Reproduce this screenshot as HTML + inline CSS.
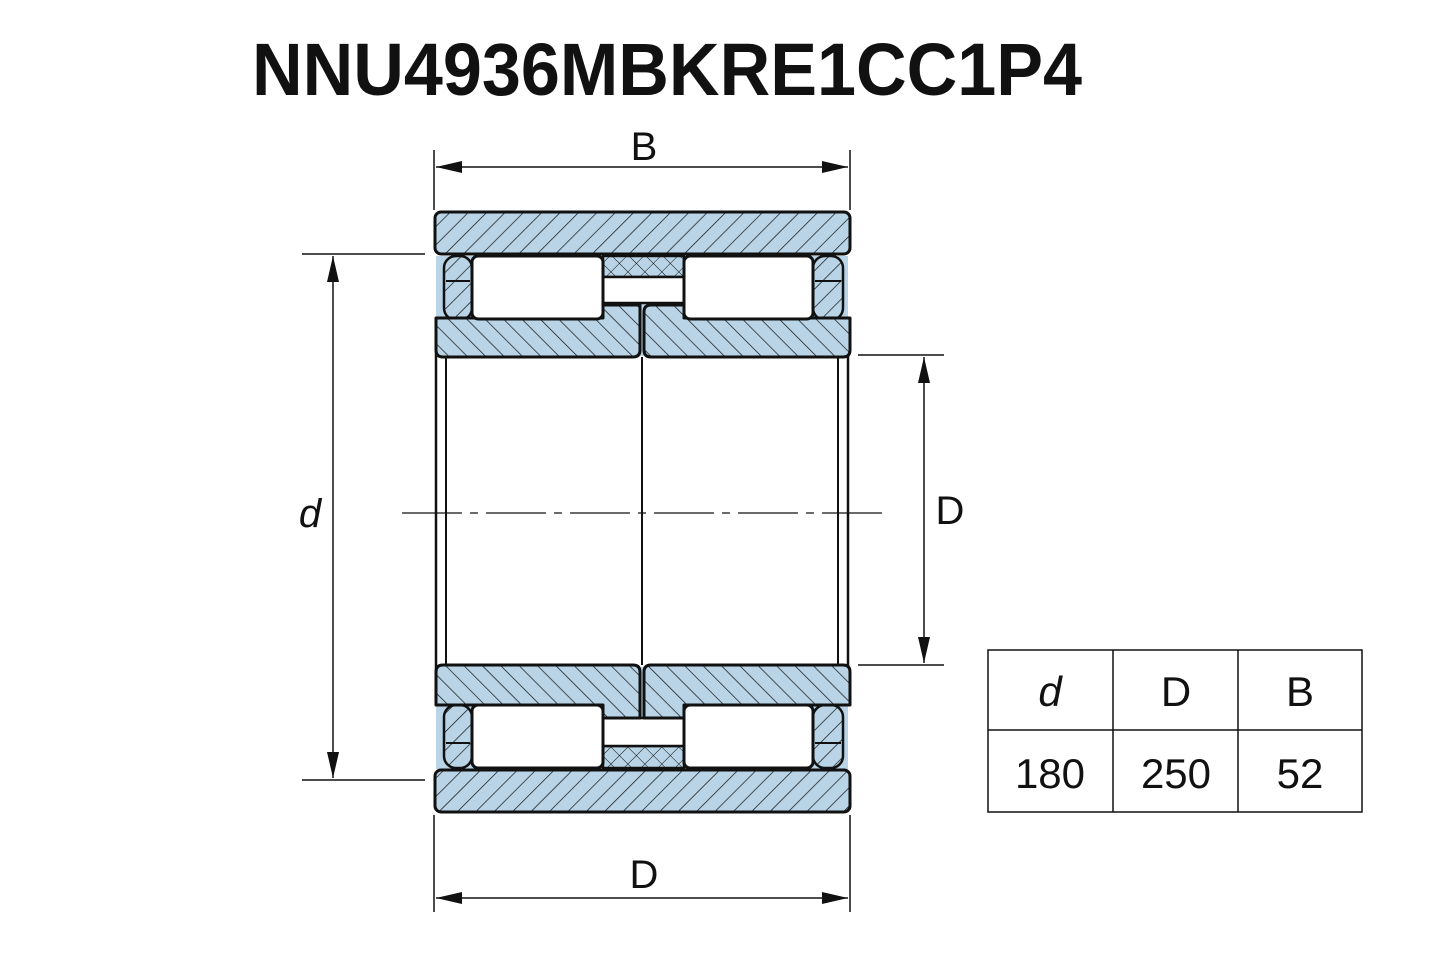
<!DOCTYPE html>
<html><head><style>html,body{margin:0;padding:0;background:#fff;}</style></head>
<body>
<svg width="1445" height="963" viewBox="0 0 1445 963" xmlns="http://www.w3.org/2000/svg" font-family="Liberation Sans, sans-serif">
<defs>
<pattern id="hr" width="13" height="13" patternUnits="userSpaceOnUse" patternTransform="rotate(45)">
<rect width="13" height="13" fill="#b8d4e6"/><line x1="0" y1="0" x2="0" y2="13" stroke="#111" stroke-width="1.4"/></pattern>
<pattern id="hl" width="13" height="13" patternUnits="userSpaceOnUse" patternTransform="rotate(-45)">
<rect width="13" height="13" fill="#b8d4e6"/><line x1="0" y1="0" x2="0" y2="13" stroke="#111" stroke-width="1.4"/></pattern>
<pattern id="hx" width="12" height="12" patternUnits="userSpaceOnUse" patternTransform="rotate(45)">
<rect width="12" height="12" fill="#b8d4e6"/><line x1="0" y1="0" x2="0" y2="12" stroke="#111" stroke-width="1"/><line x1="0" y1="0" x2="12" y2="0" stroke="#111" stroke-width="1"/></pattern>
<marker id="ar" viewBox="0 0 26 12" refX="26" refY="6" markerWidth="26" markerHeight="12" markerUnits="userSpaceOnUse" orient="auto-start-reverse"><path d="M0,0 L26,6 L0,12 z" fill="#111"/></marker>
</defs>

<text x="252" y="95" font-size="74" font-weight="bold" fill="#111" textLength="830" lengthAdjust="spacingAndGlyphs">NNU4936MBKRE1CC1P4</text>

<g stroke="#111" fill="none" stroke-width="1.5">
<line x1="436" y1="340" x2="436" y2="680" stroke-width="2.5"/>
<line x1="848" y1="340" x2="848" y2="680" stroke-width="2.5"/>
<line x1="446" y1="357" x2="446" y2="665" stroke-width="2"/>
<line x1="838" y1="357" x2="838" y2="665" stroke-width="2"/>
<line x1="642" y1="357" x2="642" y2="665" stroke-width="2"/>
</g>

<g stroke="#111" stroke-width="3" stroke-linejoin="round">
<rect x="436" y="256" width="412" height="100" fill="#b8d4e6" stroke="none"/>
<rect x="435" y="212" width="415" height="42" rx="6" fill="url(#hr)"/>
<rect x="444" y="256" width="28" height="64" rx="12" fill="url(#hr)" stroke-width="2.5"/>
<line x1="446" y1="281" x2="470" y2="281" stroke-width="2"/>
<rect x="813" y="256" width="30" height="64" rx="12" fill="url(#hr)" stroke-width="2.5"/>
<line x1="815" y1="281" x2="841" y2="281" stroke-width="2"/>
<rect x="603" y="256" width="81" height="21" fill="url(#hx)" stroke-width="2.5"/>
<rect x="603" y="277" width="81" height="26" fill="#fff" stroke-width="2.5"/>
<path d="M436,318 L603,318 L603,305 L640,305 L640,350 Q640,357 633,357 L443,357 Q436,357 436,350 Z" fill="url(#hl)"/>
<path d="M644,312 Q644,305 651,305 L684,305 L684,318 L850,318 L850,350 Q850,357 843,357 L651,357 Q644,357 644,350 Z" fill="url(#hl)"/>
<rect x="472" y="256" width="131" height="63" rx="6" fill="#fff"/>
<rect x="684" y="256" width="129" height="63" rx="6" fill="#fff"/>

<rect x="436" y="667" width="412" height="102" fill="#b8d4e6" stroke="none"/>
<rect x="435" y="770" width="415" height="42" rx="6" fill="url(#hr)"/>
<rect x="444" y="705" width="28" height="63" rx="12" fill="url(#hr)" stroke-width="2.5"/>
<line x1="446" y1="743" x2="470" y2="743" stroke-width="2"/>
<rect x="813" y="705" width="30" height="63" rx="12" fill="url(#hr)" stroke-width="2.5"/>
<line x1="815" y1="743" x2="841" y2="743" stroke-width="2"/>
<rect x="603" y="746" width="81" height="22" fill="url(#hx)" stroke-width="2.5"/>
<rect x="603" y="718" width="81" height="28" fill="#fff" stroke-width="2.5"/>
<path d="M443,665 L633,665 Q640,665 640,672 L640,718 L603,718 L603,705 L436,705 L436,672 Q436,665 443,665 Z" fill="url(#hl)"/>
<path d="M651,665 L843,665 Q850,665 850,672 L850,705 L684,705 L684,718 L644,718 L644,672 Q644,665 651,665 Z" fill="url(#hl)"/>
<rect x="472" y="705" width="131" height="63" rx="6" fill="#fff"/>
<rect x="684" y="705" width="129" height="63" rx="6" fill="#fff"/>
</g>

<line x1="402" y1="513" x2="885" y2="513" stroke="#111" stroke-width="1.2" stroke-dasharray="60,8,8,8"/>

<g stroke="#111" stroke-width="1.5" fill="none">
<line x1="434" y1="150" x2="434" y2="210"/><line x1="850" y1="150" x2="850" y2="210"/>
<line x1="436" y1="167" x2="848" y2="167" marker-start="url(#ar)" marker-end="url(#ar)"/>
<line x1="434" y1="815" x2="434" y2="912"/><line x1="850" y1="815" x2="850" y2="912"/>
<line x1="436" y1="898" x2="848" y2="898" marker-start="url(#ar)" marker-end="url(#ar)"/>
<line x1="302" y1="254" x2="425" y2="254"/><line x1="302" y1="780" x2="425" y2="780"/>
<line x1="333" y1="256" x2="333" y2="778" marker-start="url(#ar)" marker-end="url(#ar)"/>
<line x1="858" y1="355" x2="944" y2="355"/><line x1="858" y1="665" x2="944" y2="665"/>
<line x1="924" y1="357" x2="924" y2="663" marker-start="url(#ar)" marker-end="url(#ar)"/>
</g>

<g fill="#111" font-size="40" text-anchor="middle">
<text x="644" y="160">B</text>
<text x="644" y="888">D</text>
<text x="310" y="527" font-style="italic">d</text>
<text x="950" y="524">D</text>
</g>

<g stroke="#111" stroke-width="1.5" fill="none">
<rect x="988" y="650" width="374" height="162"/>
<line x1="988" y1="730" x2="1362" y2="730"/>
<line x1="1113" y1="650" x2="1113" y2="812"/>
<line x1="1238" y1="650" x2="1238" y2="812"/>
</g>
<g fill="#111" font-size="42" text-anchor="middle">
<text x="1050" y="706" font-style="italic">d</text>
<text x="1176" y="706">D</text>
<text x="1300" y="706">B</text>
<text x="1050" y="788">180</text>
<text x="1176" y="788">250</text>
<text x="1300" y="788">52</text>
</g>
</svg>
</body></html>
